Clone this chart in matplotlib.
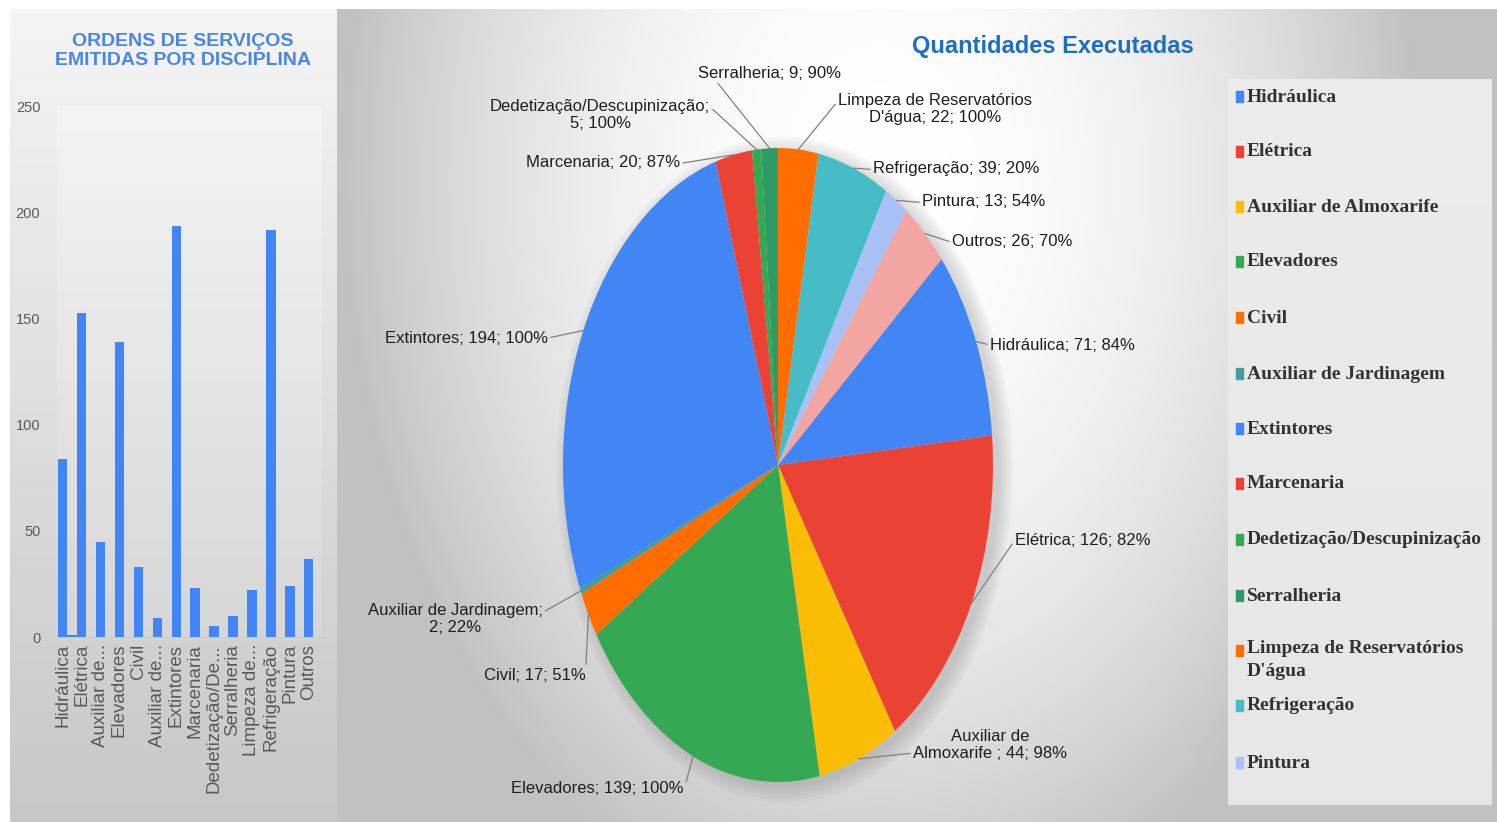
import matplotlib
matplotlib.use('Agg')
import matplotlib.pyplot as plt
from matplotlib.patches import Ellipse
import numpy as np

W, H = 1497, 822

# --- dados ---
disciplinas = ['Hidráulica', 'Elétrica', 'Auxiliar de Almoxarife', 'Elevadores', 'Civil',
               'Auxiliar de Jardinagem', 'Extintores', 'Marcenaria',
               'Dedetização/Descupinização', 'Serralheria',
               "Limpeza de Reservatórios D'água", 'Refrigeração', 'Pintura', 'Outros']
rotulos_barras = ['Hidráulica', 'Elétrica', 'Auxiliar de...', 'Elevadores', 'Civil',
                  'Auxiliar de...', 'Extintores', 'Marcenaria', 'Dedetização/De...',
                  'Serralheria', 'Limpeza de...', 'Refrigeração', 'Pintura', 'Outros']
emitidas = [84, 153, 45, 139, 33, 9, 194, 23, 5, 10, 22, 192, 24, 37]
emitidas_extra = [1, 0, 0, 0, 0, 0, 0, 0, 0, 0, 0, 0, 0, 0]
executadas = [71, 126, 44, 139, 17, 2, 194, 20, 5, 9, 22, 39, 13, 26]
percentual = [84, 82, 98, 100, 51, 22, 100, 87, 100, 90, 100, 20, 54, 70]
nomes_pizza = ['Hidráulica', 'Elétrica', 'Auxiliar de\nAlmoxarife ', 'Elevadores', 'Civil',
               'Auxiliar de Jardinagem', 'Extintores', 'Marcenaria',
               'Dedetização/Descupinização', 'Serralheria',
               "Limpeza de Reservatórios\nD'água", 'Refrigeração', 'Pintura', 'Outros']
quebra = ['; ', '; ', '; ', '; ', '; ', ';\n', '; ', '; ', ';\n', '; ', '; ', '; ', '; ', '; ']

cores = ['#4285F4', '#EA4335', '#FBBC04', '#34A853', '#FF6D01', '#3E9F9C', '#4285F4',
         '#EA4335', '#34A853', '#2E9B66', '#FF6D01', '#46BDC6', '#A9C1F7', '#F3A6A1']

# posicao dos rotulos (px, origem no topo): x, y, ha, relpos da linha
pos_rotulos = [(990, 345, 'left', (0, 0.5)), (1015, 540, 'left', (0, 0.5)),
               (990, 745, 'center', (0, 0.25)), (597, 788, 'center', (1, 0.2)),
               (535, 675, 'center', (1, 1)), (455, 619, 'center', (1, 0.7)),
               (548, 338, 'right', (1, 0.5)), (680, 162, 'right', (1, 0.4)),
               (600, 115, 'center', (1, 0.75)), (770, 73, 'center', (0.12, 0)),
               (935, 109, 'center', (0, 0.75)), (873, 168, 'left', (0, 0.4)),
               (922, 201, 'left', (0, 0.4)), (952, 241, 'left', (0, 0.4))]

plt.rcParams['font.family'] = ['Liberation Sans', 'DejaVu Sans']

fig = plt.figure(figsize=(W / 100, H / 100), dpi=100)

# fundo com gradiente
yy, xx = np.mgrid[0:H, 0:W].astype(float)
bg = np.ones((H, W))
esq = (xx >= 10) & (xx < 337) & (yy >= 10)
bg[esq] = (0.96 - 0.18 * (yy - 10) / (H - 10))[esq]
plot = (xx >= 57) & (xx < 322) & (yy >= 107) & (yy < 640)
bg[plot] += 0.02
dir_ = (xx >= 337) & (yy >= 10)
d = np.clip(((xx - 880) / 540) ** 2 + ((yy - 180) / 760) ** 2, 0, 1)
bg[dir_] = (1.0 - 0.24 * d)[dir_]
leg = (xx >= 1228) & (xx < 1492) & (yy >= 80) & (yy < 805)
bg[leg] = 0.905 + 0.02 * (1 - (yy[leg] - 80) / 725)
ax_bg = fig.add_axes([0, 0, 1, 1])
ax_bg.imshow(np.dstack([bg, bg, bg]).clip(0, 1), aspect='auto', extent=(0, W, H, 0))
ax_bg.axis('off')

# --- grafico de barras ---
axb = fig.add_axes([57 / W, (H - 637) / H, (322 - 57) / W, (637 - 107) / H])
axb.patch.set_alpha(0)
x = np.arange(len(emitidas))
axb.bar(x, emitidas, width=0.5, color='#4285F4')
axb.bar(x + 0.5, emitidas_extra, width=0.5, color='#4285F4')
axb.set_xlim(-0.3, 13.7)
axb.set_ylim(0, 250)
axb.set_yticks([0, 50, 100, 150, 200, 250])
axb.set_xticks(x)
axb.set_xticklabels(rotulos_barras, rotation=90, fontsize=13.5, color='#595959')
axb.tick_params(axis='y', length=0, pad=12, labelsize=10.5, labelcolor='#595959')
axb.tick_params(axis='x', length=0, pad=5)
for s in ['top', 'right', 'left']:
    axb.spines[s].set_visible(False)
axb.spines['bottom'].set_color('#c8c8c8')
fig.text(183 / W, 1 - 51 / H, 'ORDENS DE SERVIÇOS\nEMITIDAS POR DISCIPLINA', ha='center',
         va='center', fontsize=14, fontweight='bold', color='#4A86E8', linespacing=1.1)

# --- grafico de pizza ---
axp = fig.add_axes([563 / W, (H - 782) / H, 430 / W, 634 / H])
for k in range(6):
    axp.add_patch(Ellipse((0.03, -0.015), 2.0 + 0.025 * k, 2.0 + 0.02 * k, color='#606060',
                          alpha=0.045, lw=0, clip_on=False, zorder=0))
wedges, _ = axp.pie(executadas, colors=cores, startangle=40.5, counterclock=False,
                    radius=1, wedgeprops=dict(linewidth=0))
axp.set_xlim(-1, 1)
axp.set_ylim(-1, 1)
axp.set_aspect('auto')
axp.axis('off')

for i, w in enumerate(wedges):
    ang = np.deg2rad((w.theta1 + w.theta2) / 2)
    tx, ty, ha, rp = pos_rotulos[i]
    txt = f'{nomes_pizza[i]}{quebra[i]}{executadas[i]}; {percentual[i]}%'
    axp.annotate(txt, xy=(np.cos(ang), np.sin(ang)), xycoords='data',
                 xytext=(tx, H - ty), textcoords='figure pixels', ha=ha, va='center',
                 multialignment='center', fontsize=12, color='#1e1e1e', linespacing=1.2,
                 arrowprops=dict(arrowstyle='-', color='#808080', lw=0.9,
                                 shrinkA=0, shrinkB=0, relpos=rp))

fig.text(1053 / W, 1 - 47 / H, 'Quantidades Executadas', ha='center', va='center',
         fontsize=17, fontweight='bold', color='#1F6FC0')

# legenda (Outros fica fora da caixa)
ys_leg = [97, 152, 207, 262, 318, 374, 429, 484, 540, 596, 651, 706, 763]
for i, yl in enumerate(ys_leg):
    fig.patches.append(plt.Rectangle((1236 / W, 1 - (yl + 5) / H), 7 / W, 11 / H,
                                     transform=fig.transFigure, color=cores[i]))
    nome = disciplinas[i].replace("Reservatórios D'", "Reservatórios\nD'")
    fig.text(1247 / W, 1 - (yl - 11 if '\n' in nome else yl) / H, nome, ha='left',
             va='top' if '\n' in nome else 'center', fontsize=14, fontweight='bold',
             color='#333333', family=['Liberation Serif', 'DejaVu Serif'], linespacing=1.45)

fig.savefig('out.png', dpi=100)
